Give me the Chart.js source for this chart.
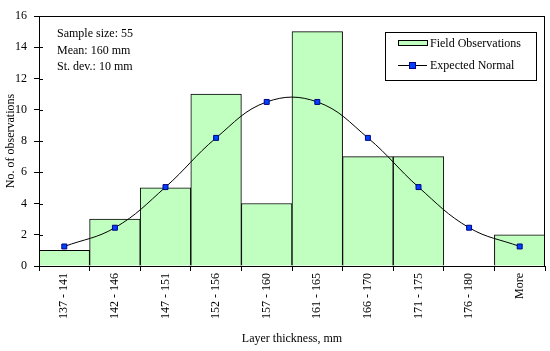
<!DOCTYPE html>
<html>
<head>
<meta charset="utf-8">
<script src="https://cdn.jsdelivr.net/npm/chart.js@4/dist/chart.umd.min.js"></script>
<style>
html,body{margin:0;padding:0;background:#fff;}
#wrap{width:550px;height:351px;position:relative;}
</style>
</head>
<body>
<div id="wrap"><canvas id="c" width="550" height="351"></canvas></div>
<script>
const categories = ["137 - 141","142 - 146","147 - 151","152 - 156","157 - 160","161 - 165","166 - 170","171 - 175","176 - 180","More"];
const observed = [1, 3, 5, 11, 4, 15, 7, 7, 0, 2];
const expected = [1.25, 2.45, 5.05, 8.2, 10.5, 10.5, 8.2, 5.05, 2.45, 1.25];
const yTicks = [0, 2, 4, 6, 8, 10, 12, 14, 16];
const statsLines = ["Sample size: 55", "Mean: 160 mm", "St. dev.: 10 mm"];
const seriesNames = ["Field Observations", "Expected Normal"];
const xTitle = "Layer thickness, mm";
const yTitle = "No. of observations";

const FONT = "'Liberation Serif', 'Times New Roman', serif";
const GREEN = "#C0FFC0";
const MARK = "#0040FF";
const MARKB = "#000080";

const framePlugin = {
  id: 'frame',
  afterDatasetsDraw(chart) {
    const {ctx, chartArea: a, scales} = chart;
    ctx.save();
    ctx.strokeStyle = '#000';
    ctx.lineWidth = 1;
    ctx.strokeRect(Math.round(a.left) + 0.5, Math.round(a.top) + 0.5, Math.round(a.right - a.left) - 1, Math.round(a.bottom - a.top));
    // inside parts of cross tick marks on y axis
    ctx.beginPath();
    yTicks.forEach(v => {
      const y = Math.round(scales.y.getPixelForValue(v)) + 0.5;
      ctx.moveTo(a.left, y); ctx.lineTo(a.left + 4, y);
    });
    ctx.stroke();
    // stats text
    ctx.fillStyle = '#000';
    ctx.font = '12px ' + FONT;
    ctx.textBaseline = 'middle';
    ctx.textAlign = 'left';
    statsLines.forEach((t, i) => ctx.fillText(t, 57, 34 + i * 16.5));
    // legend
    const lx = 385, ly = 32, lw = 151, lh = 48;
    ctx.fillStyle = '#fff';
    ctx.fillRect(lx, ly, lw, lh);
    ctx.strokeRect(lx + 0.5, ly + 0.5, lw, lh);
    ctx.fillStyle = GREEN;
    ctx.fillRect(398.5, 40.5, 29, 5);
    ctx.strokeRect(398.5, 40.5, 29, 5);
    ctx.beginPath();
    ctx.moveTo(398, 65.5); ctx.lineTo(427, 65.5); ctx.stroke();
    ctx.fillStyle = MARK;
    ctx.strokeStyle = MARKB;
    ctx.fillRect(409.5, 62.5, 6, 6);
    ctx.strokeRect(409.5, 62.5, 6, 6);
    ctx.fillStyle = '#000';
    ctx.fillText(seriesNames[0], 430, 43.5);
    ctx.fillText(seriesNames[1], 430, 65.5);
    ctx.restore();
  }
};

new Chart(document.getElementById('c'), {
  data: {
    labels: categories,
    datasets: [
      {
        type: 'line', label: seriesNames[1], data: expected, order: 0,
        borderColor: '#000', borderWidth: 1, tension: 0.4,
        pointStyle: 'rect', pointRadius: 3.5, pointBackgroundColor: MARK,
        pointBorderColor: MARKB, pointBorderWidth: 1
      },
      {
        type: 'bar', label: seriesNames[0], data: observed, order: 1,
        backgroundColor: GREEN, borderColor: '#000', borderWidth: 1,
        categoryPercentage: 1.0, barPercentage: 1.0
      }
    ]
  },
  options: {
    responsive: false, animation: false,
    layout: {padding: {left: 0, right: 5, top: 16, bottom: 5}},
    plugins: {legend: {display: false}, tooltip: {enabled: false}},
    scales: {
      x: {
        offset: true,
        grid: {display: true, drawOnChartArea: false, offset: true, color: '#000', tickLength: 5, tickColor: '#000'},
        border: {display: true, color: '#000'},
        ticks: {color: '#000', font: {family: FONT, size: 12}, minRotation: 90, maxRotation: 90, autoSkip: false, padding: 2},
        title: {display: true, text: xTitle, color: '#000', font: {family: FONT, size: 12}, padding: {top: 6, bottom: 0}},
        afterFit(s) { s.height = 80; }
      },
      y: {
        min: 0, max: 16,
        afterBuildTicks(s) { s.ticks = yTicks.map(v => ({value: v})); },
        grid: {display: true, drawOnChartArea: false, color: '#000', tickLength: 5, tickColor: '#000'},
        border: {display: true, color: '#000'},
        ticks: {color: '#000', font: {family: FONT, size: 12}, padding: 7},
        title: {display: true, text: yTitle, color: '#000', font: {family: FONT, size: 12}, padding: {top: 4, bottom: 2}},
        afterFit(s) { s.width = 39; }
      }
    }
  },
  plugins: [framePlugin]
});
</script>
</body>
</html>
